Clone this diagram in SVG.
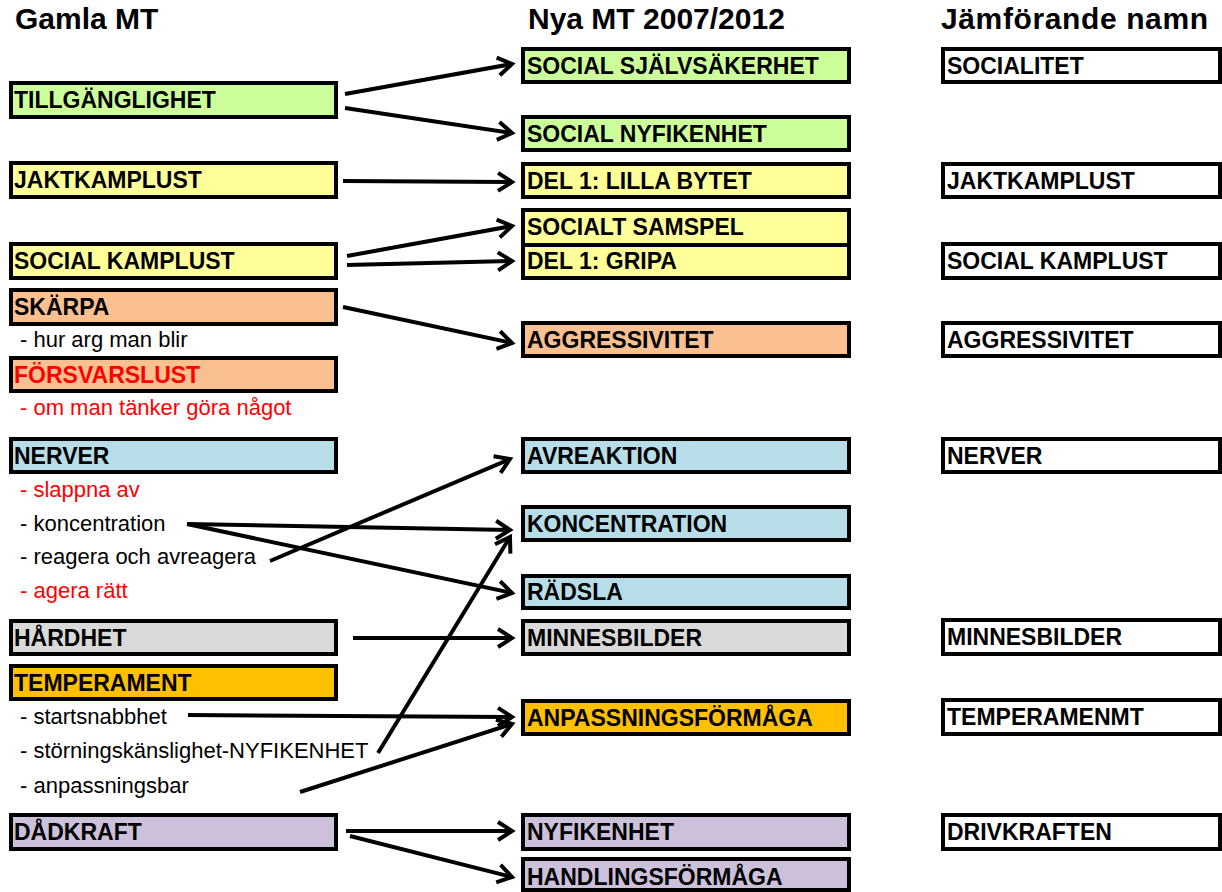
<svg xmlns="http://www.w3.org/2000/svg" width="1222" height="892" viewBox="0 0 1222 892">
<style>
.box{stroke:#000;stroke-width:4}
.lbl{font-family:"Liberation Sans",Arial,sans-serif;font-weight:bold;font-size:23px;fill:#000}
.hdr{font-family:"Liberation Sans",Arial,sans-serif;font-weight:bold;font-size:30px;fill:#000}
.sub{font-family:"Liberation Sans",Arial,sans-serif;font-size:22px;fill:#000}
.red{fill:#FF0000}
.g{fill:#CCFF99}.y{fill:#FFFF99}.o{fill:#FAC090}.b{fill:#B7DDE8}.gr{fill:#D9D9D9}.go{fill:#FFC000}.p{fill:#CCC0DA}.w{fill:#FFFFFF}
.c line{stroke:#000;stroke-width:4;marker-end:url(#ah)}
</style>
<defs>
<marker id="ah" markerUnits="userSpaceOnUse" markerWidth="22" markerHeight="22" viewBox="0 0 22 22" refX="17" refY="11" orient="auto">
<path d="M3,2 L17,11 L3,20" fill="none" stroke="#000" stroke-width="4"/>
</marker>
</defs>
<rect width="1222" height="892" fill="#fff"/>
<g id="headers">
<text class="hdr" x="15" y="29">Gamla MT</text>
<text class="hdr" x="528" y="29">Nya MT 2007/2012</text>
<text class="hdr" x="941" y="29" textLength="267">Jämförande namn</text>
</g>
<!-- left column -->
<g id="old-tillganglighet"><rect class="box g" x="11" y="83" width="325" height="34"/><text class="lbl" x="14" y="108">TILLGÄNGLIGHET</text></g>
<g id="old-jaktkamplust"><rect class="box y" x="11" y="163" width="325" height="34"/><text class="lbl" x="14" y="188">JAKTKAMPLUST</text></g>
<g id="old-socialkamplust"><rect class="box y" x="11" y="244" width="325" height="34"/><text class="lbl" x="14" y="269">SOCIAL KAMPLUST</text></g>
<g id="old-skarpa"><rect class="box o" x="11" y="290" width="325" height="34"/><text class="lbl" x="14" y="315">SKÄRPA</text>
<text class="sub" x="20" y="347">- hur arg man blir</text></g>
<g id="old-forsvarslust"><rect class="box o" x="11" y="358" width="325" height="33"/><text class="lbl red" x="14" y="383">FÖRSVARSLUST</text>
<text class="sub red" x="20" y="415">- om man tänker göra något</text></g>
<g id="old-nerver"><rect class="box b" x="11" y="439" width="325" height="33"/><text class="lbl" x="14" y="464">NERVER</text>
<text class="sub red" x="20" y="497">- slappna av</text>
<text class="sub" x="20" y="531">- koncentration</text>
<text class="sub" x="20" y="564">- reagera och avreagera</text>
<text class="sub red" x="20" y="598">- agera rätt</text></g>
<g id="old-hardhet"><rect class="box gr" x="11" y="621" width="325" height="33"/><text class="lbl" x="14" y="646">HÅRDHET</text></g>
<g id="old-temperament"><rect class="box go" x="11" y="666" width="325" height="33"/><text class="lbl" x="14" y="691">TEMPERAMENT</text>
<text class="sub" x="20" y="724">- startsnabbhet</text>
<text class="sub" x="20" y="758">- störningskänslighet-NYFIKENHET</text>
<text class="sub" x="20" y="793">- anpassningsbar</text></g>
<g id="old-dadkraft"><rect class="box p" x="11" y="815" width="325" height="34"/><text class="lbl" x="14" y="840">DÅDKRAFT</text></g>
<!-- middle column -->
<g id="new-socialsjalvsakerhet"><rect class="box g" x="523" y="49" width="326" height="33"/><text class="lbl" x="527" y="74">SOCIAL SJÄLVSÄKERHET</text></g>
<g id="new-socialnyfikenhet"><rect class="box g" x="523" y="117" width="326" height="33"/><text class="lbl" x="527" y="142">SOCIAL NYFIKENHET</text></g>
<g id="new-lillabytet"><rect class="box y" x="523" y="164" width="326" height="33"/><text class="lbl" x="527" y="189">DEL 1: LILLA BYTET</text></g>
<g id="new-socialtsamspel"><rect class="box y" x="523" y="210" width="326" height="35"/><text class="lbl" x="527" y="235">SOCIALT SAMSPEL</text></g>
<g id="new-gripa"><rect class="box y" x="523" y="245" width="326" height="33"/><text class="lbl" x="527" y="269">DEL 1: GRIPA</text></g>
<g id="new-aggressivitet"><rect class="box o" x="523" y="323" width="326" height="33"/><text class="lbl" x="527" y="348">AGGRESSIVITET</text></g>
<g id="new-avreaktion"><rect class="box b" x="523" y="439" width="326" height="33"/><text class="lbl" x="527" y="464">AVREAKTION</text></g>
<g id="new-koncentration"><rect class="box b" x="523" y="507" width="326" height="33"/><text class="lbl" x="527" y="532">KONCENTRATION</text></g>
<g id="new-radsla"><rect class="box b" x="523" y="576" width="326" height="32"/><text class="lbl" x="527" y="600">RÄDSLA</text></g>
<g id="new-minnesbilder"><rect class="box gr" x="523" y="621" width="326" height="33"/><text class="lbl" x="527" y="646">MINNESBILDER</text></g>
<g id="new-anpassningsformaga"><rect class="box go" x="523" y="701" width="326" height="33"/><text class="lbl" x="527" y="726">ANPASSNINGSFÖRMÅGA</text></g>
<g id="new-nyfikenhet"><rect class="box p" x="523" y="815" width="326" height="34"/><text class="lbl" x="527" y="840">NYFIKENHET</text></g>
<g id="new-handlingsformaga"><rect class="box p" x="523" y="859" width="326" height="31"/><text class="lbl" x="527" y="885">HANDLINGSFÖRMÅGA</text></g>
<!-- right column -->
<g id="cmp-socialitet"><rect class="box w" x="943" y="49" width="277" height="33"/><text class="lbl" x="947" y="74">SOCIALITET</text></g>
<g id="cmp-jaktkamplust"><rect class="box w" x="943" y="164" width="277" height="33"/><text class="lbl" x="947" y="189">JAKTKAMPLUST</text></g>
<g id="cmp-socialkamplust"><rect class="box w" x="943" y="244" width="277" height="34"/><text class="lbl" x="947" y="269">SOCIAL KAMPLUST</text></g>
<g id="cmp-aggressivitet"><rect class="box w" x="943" y="323" width="277" height="33"/><text class="lbl" x="947" y="348">AGGRESSIVITET</text></g>
<g id="cmp-nerver"><rect class="box w" x="943" y="439" width="277" height="33"/><text class="lbl" x="947" y="464">NERVER</text></g>
<g id="cmp-minnesbilder"><rect class="box w" x="943" y="620" width="277" height="34"/><text class="lbl" x="947" y="645">MINNESBILDER</text></g>
<g id="cmp-temperamenmt"><rect class="box w" x="943" y="700" width="277" height="34"/><text class="lbl" x="947" y="725">TEMPERAMENMT</text></g>
<g id="cmp-drivkraften"><rect class="box w" x="943" y="815" width="277" height="34"/><text class="lbl" x="947" y="840">DRIVKRAFTEN</text></g>
<!-- connectors -->
<g id="connectors" class="c">
<line x1="345" y1="94" x2="512" y2="64"/>
<line x1="345" y1="108" x2="512" y2="133"/>
<line x1="343" y1="181" x2="512" y2="182"/>
<line x1="347" y1="256" x2="512" y2="226"/>
<line x1="347" y1="265" x2="512" y2="261"/>
<line x1="343" y1="307" x2="512" y2="343"/>
<line x1="187" y1="524" x2="510" y2="530"/>
<line x1="187" y1="524" x2="512" y2="593"/>
<line x1="270" y1="561" x2="510" y2="459"/>
<line x1="378" y1="753" x2="510" y2="537"/>
<line x1="353" y1="638" x2="512" y2="638"/>
<line x1="188" y1="715" x2="512" y2="717"/>
<line x1="300" y1="792" x2="512" y2="724"/>
<line x1="346" y1="831" x2="512" y2="831"/>
<line x1="350" y1="836" x2="512" y2="877"/>
</g>
</svg>
